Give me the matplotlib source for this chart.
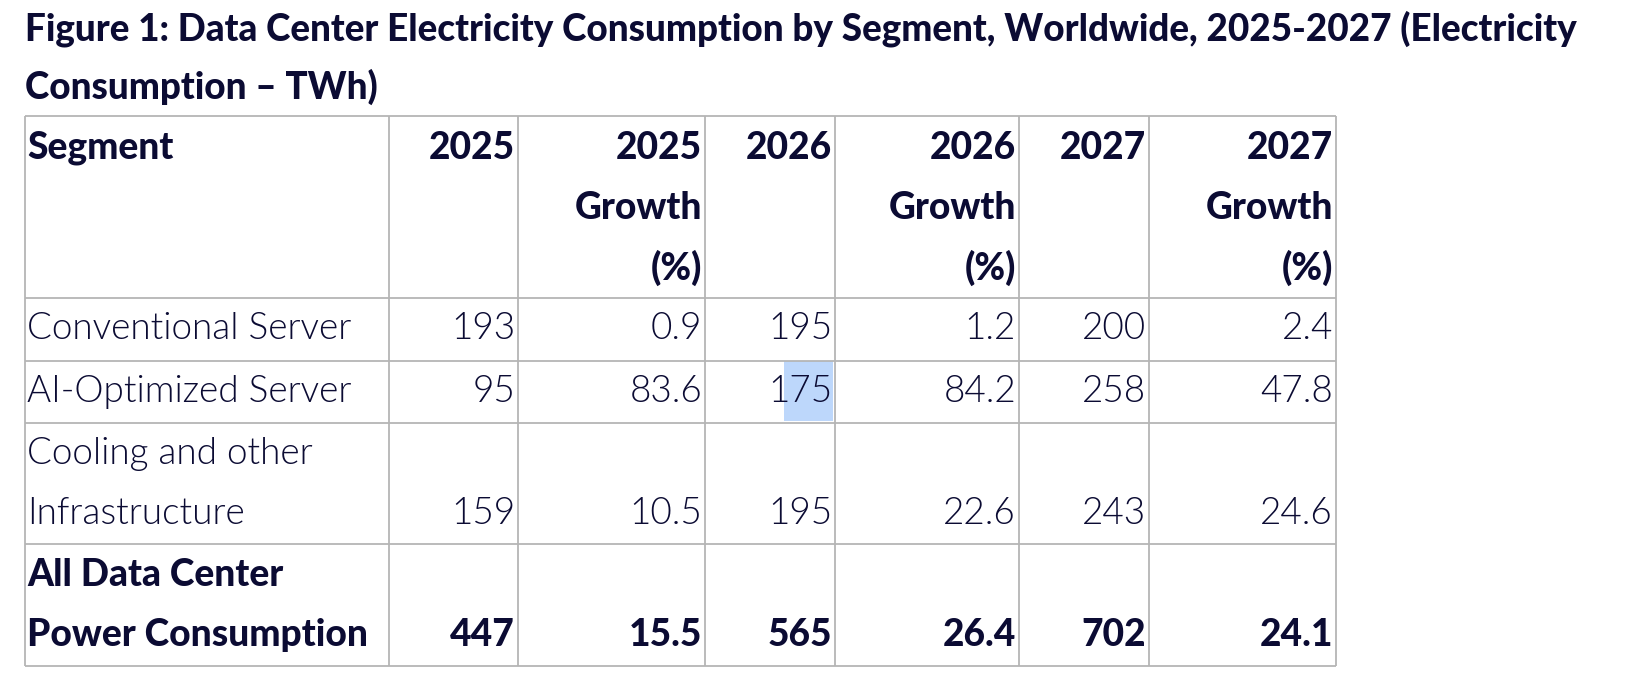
import matplotlib
matplotlib.use("Agg")
import matplotlib.pyplot as plt

# table content
title_lines = ["Figure 1: Data Center Electricity Consumption by Segment, Worldwide, 2025-2027 (Electricity",
               "Consumption \u2013 TWh)"]
header = [["Segment"], ["2025"], ["2025", "Growth", "(%)"], ["2026"],
          ["2026", "Growth", "(%)"], ["2027"], ["2027", "Growth", "(%)"]]
segments = [["Conventional Server"], ["AI-Optimized Server"],
            ["Cooling and other", "Infrastructure"],
            ["All Data Center", "Power Consumption"]]
val_2025 = ["193", "95", "159", "447"]
growth_2025 = ["0.9", "83.6", "10.5", "15.5"]
val_2026 = ["195", "175", "195", "565"]
growth_2026 = ["1.2", "84.2", "22.6", "26.4"]
val_2027 = ["200", "258", "243", "702"]
growth_2027 = ["2.4", "47.8", "24.6", "24.1"]

# layout in pixels
col_edges = [25, 389, 518, 705, 835, 1019, 1149, 1336]
row_edges = [116, 298, 361, 423, 544, 666]
line_h = 60
ink = "#0b0b33"
grid = "#b5b5b5"
fs_reg = 26.6
fs_bold = 26.7
w_bold = 900
w_reg = 300

fig = plt.figure(figsize=(16.26, 6.84), dpi=100)
ax = fig.add_axes([0, 0, 1, 1])
ax.set_xlim(0, 1626)
ax.set_ylim(684, 0)
ax.axis("off")
plt.rcParams['font.family'] = ['Lato', 'DejaVu Sans']

for i, t in enumerate(title_lines):
    ax.text(25, 29 + i * 58, t, fontsize=26.6, fontweight=w_bold, color=ink,
            ha="left", va="center")

# highlighted cell (AI-Optimized Server, 2026)
ax.fill_between([784, 833], 361, 421, color="#bdd7fb", linewidth=0)

ax.hlines(row_edges, col_edges[0], col_edges[-1], color=grid, linewidth=1.3)
ax.vlines(col_edges, row_edges[0], row_edges[-1], color=grid, linewidth=1.3)

# header row
for c, lines in enumerate(header):
    for k, t in enumerate(lines):
        y = row_edges[0] + 32 + k * line_h
        if c == 0:
            ax.text(col_edges[c] + 2, y, t, fontsize=fs_bold, fontweight=w_bold,
                    color=ink, ha="left", va="center")
        else:
            ax.text(col_edges[c + 1] - 3, y, t, fontsize=fs_bold, fontweight=w_bold,
                    color=ink, ha="right", va="center")

columns = [val_2025, growth_2025, val_2026, growth_2026, val_2027, growth_2027]
for r, seg in enumerate(segments):
    top = row_edges[r + 1]
    last = r == len(segments) - 1
    weight = w_bold if last else w_reg
    size = fs_bold if last else fs_reg
    for k, t in enumerate(seg):
        ax.text(col_edges[0] + 2, top + 31 + k * line_h, t, fontsize=size,
                fontweight=weight, color=ink, ha="left", va="center")
    y_last = top + 31 + (len(seg) - 1) * line_h
    for c, col in enumerate(columns):
        ax.text(col_edges[c + 2] - 3, y_last, col[r], fontsize=size,
                fontweight=weight, color=ink, ha="right", va="center")

fig.savefig("out.png", dpi=100, facecolor="white")
